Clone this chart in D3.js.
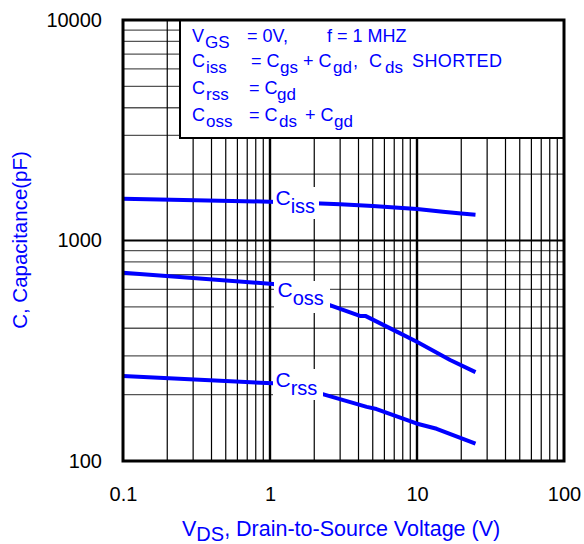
<!DOCTYPE html>
<html>
<head>
<meta charset="utf-8">
<script src="https://cdn.jsdelivr.net/npm/d3@7"></script>
<style>
  html, body { margin: 0; padding: 0; background: #fff; }
  svg { display: block; }
  text { font-family: "Liberation Sans", Arial, Helvetica, sans-serif; }
</style>
</head>
<body>
<svg id="chart" width="584" height="544"></svg>
<script>
// Drain-source voltage (V) and capacitance (pF) readings for each curve
const cissV = [0.1, 1, 2, 3, 5, 10, 15, 20, 25];
const cissC = [1545, 1500, 1474, 1462, 1433, 1389, 1350, 1325, 1309];

const cossV = [0.1, 1.05, 2.52, 4.09, 4.45, 7.28, 9.9, 16.8, 25];
const cossC = [714, 635, 510, 455, 455, 386, 348, 287, 253];

const crssV = [0.1, 1.05, 2.28, 4.55, 5.3, 9.9, 13.6, 25];
const crssC = [243, 225, 201, 176, 172, 148, 140, 120];

// Axis tick labels
const xTicks = [0.1, 1, 10, 100];
const yTicks = [100, 1000, 10000];

// Grid positions
const xMinor = [0.2,0.3,0.4,0.5,0.6,0.7,0.8,0.9, 2,3,4,5,6,7,8,9, 20,30,40,50,60,70,80,90];
const xMajor = [1, 10];
const yMinor = [200,300,400,500,600,700,800,900, 2000,3000,4000,5000,6000,7000,8000,9000];
const yMajor = [1000];

const BLUE = "#0000ff";
const svg = d3.select("#chart");

const pLeft = 123, pRight = 564, pTop = 20, pBottom = 461;
const x = d3.scaleLog().domain([0.1, 100]).range([pLeft, pRight]);
const y = d3.scaleLog().domain([100, 10000]).range([pBottom, pTop]);

// Grid lines
const grid = svg.append("g");
grid.selectAll("line.hmin").data(yMinor).join("line")
  .attr("x1", pLeft).attr("x2", pRight)
  .attr("y1", d => y(d)).attr("y2", d => y(d))
  .attr("stroke", "#555").attr("stroke-width", 1.3);
grid.selectAll("line.vmin").data(xMinor).join("line")
  .attr("x1", d => x(d)).attr("x2", d => x(d))
  .attr("y1", pTop).attr("y2", pBottom)
  .attr("stroke", "#000").attr("stroke-width", 1.2);
grid.selectAll("line.hmaj").data(yMajor).join("line")
  .attr("x1", pLeft).attr("x2", pRight)
  .attr("y1", d => y(d)).attr("y2", d => y(d))
  .attr("stroke", "#000").attr("stroke-width", 2.2);
grid.selectAll("line.vmaj").data(xMajor).join("line")
  .attr("x1", d => x(d)).attr("x2", d => x(d))
  .attr("y1", pTop).attr("y2", pBottom)
  .attr("stroke", "#000").attr("stroke-width", 2.4);

// Capacitance curves
const line = d3.line().x(d => x(d[0])).y(d => y(d[1]));
const curves = [
  { v: cissV, c: cissC, sub: "iss", lx: 275.5, ly: 205, box: [273, 187, 46, 32] },
  { v: cossV, c: cossC, sub: "oss", lx: 277.5, ly: 297, box: [274, 281, 56, 32] },
  { v: crssV, c: crssC, sub: "rss", lx: 275.5, ly: 387, box: [273, 369, 50, 31] }
];
curves.forEach(cv => {
  svg.append("path")
    .datum(d3.zip(cv.v, cv.c))
    .attr("d", line)
    .attr("fill", "none")
    .attr("stroke", BLUE)
    .attr("stroke-width", 4)
    .attr("stroke-linejoin", "round");
});
curves.forEach(cv => {
  svg.append("rect")
    .attr("x", cv.box[0]).attr("y", cv.box[1])
    .attr("width", cv.box[2]).attr("height", cv.box[3])
    .attr("fill", "#fff");
  const t = svg.append("text")
    .attr("x", cv.lx).attr("y", cv.ly)
    .attr("fill", BLUE).attr("font-size", 21);
  t.append("tspan").text("C");
  t.append("tspan").attr("dy", 7.5).attr("font-size", 20).text(cv.sub);
});

// Conditions box
svg.append("rect")
  .attr("x", 180).attr("y", pTop).attr("width", pRight - 180).attr("height", 118)
  .attr("fill", "#fff").attr("stroke", "#000").attr("stroke-width", 2);

const legendRows = [
  { y: 42, parts: [
    { x: 192, t: "V" }, { x: 205, t: "GS", sub: true },
    { x: 247, t: "= 0V," }, { x: 327, t: "f = 1 MHZ" } ] },
  { y: 67, parts: [
    { x: 192, t: "C" }, { x: 206, t: "iss", sub: true },
    { x: 251, t: "= C" }, { x: 280, t: "gs", sub: true },
    { x: 303, t: "+ C" }, { x: 333, t: "gd", sub: true }, { x: 353, t: "," },
    { x: 369, t: "C" }, { x: 385, t: "ds", sub: true }, { x: 412, t: "SHORTED" } ] },
  { y: 94, parts: [
    { x: 192, t: "C" }, { x: 206, t: "rss", sub: true },
    { x: 249, t: "= C" }, { x: 277, t: "gd", sub: true } ] },
  { y: 121, parts: [
    { x: 192, t: "C" }, { x: 206, t: "oss", sub: true },
    { x: 249, t: "= C" }, { x: 279, t: "ds", sub: true },
    { x: 305, t: "+ C" }, { x: 334, t: "gd", sub: true } ] }
];
legendRows.forEach(row => {
  row.parts.forEach(p => {
    svg.append("text")
      .attr("x", p.x).attr("y", row.y + (p.sub ? 6 : 0))
      .attr("fill", BLUE)
      .attr("font-size", p.sub ? 17 : 18)
      .attr("textLength", p.t === "SHORTED" ? 90 : null)
      .text(p.t);
  });
});

// Plot frame
svg.append("rect")
  .attr("x", pLeft).attr("y", pTop).attr("width", pRight - pLeft).attr("height", pBottom - pTop)
  .attr("fill", "none").attr("stroke", "#000").attr("stroke-width", 3);

// Axes (labels only)
const xAxis = svg.append("g").attr("transform", `translate(0,${pBottom})`)
  .call(d3.axisBottom(x).tickValues(xTicks).tickSize(0).tickPadding(26)
    .tickFormat(d => String(d)));
const yAxis = svg.append("g").attr("transform", `translate(${pLeft},0)`)
  .call(d3.axisLeft(y).tickValues(yTicks).tickSize(0).tickPadding(21)
    .tickFormat(d => String(d)));
[xAxis, yAxis].forEach(a => {
  a.select(".domain").remove();
  a.selectAll("text").attr("font-size", 20).attr("fill", "#000")
    .attr("font-family", '"Liberation Sans", Arial, Helvetica, sans-serif');
});

// Axis titles
const xt = svg.append("text")
  .attr("x", 182).attr("y", 536).attr("fill", BLUE).attr("font-size", 21.5);
xt.append("tspan").text("V");
xt.append("tspan").attr("dy", 5).attr("font-size", 20).text("DS");
xt.append("tspan").attr("dy", -5).text(", Drain-to-Source Voltage (V)");

svg.append("text")
  .attr("transform", "translate(27,240) rotate(-90)")
  .attr("text-anchor", "middle")
  .attr("fill", BLUE).attr("font-size", 20.5)
  .text("C, Capacitance(pF)");
</script>
</body>
</html>
